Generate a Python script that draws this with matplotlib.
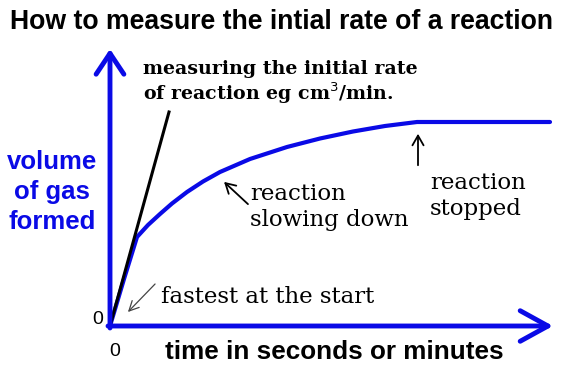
import matplotlib
matplotlib.use("Agg")
import matplotlib.pyplot as plt

# Data (time units, volume units; origin at 0,0)
time = [0, 14, 27, 38, 50, 62, 77, 93, 110, 140, 177, 210, 243, 275, 307, 440]
volume = [0, 47, 89, 101, 112, 122.5, 134, 144.5, 154, 167, 179, 187.5, 194.5, 200, 204, 204]
tangent_t = [0, 59]
tangent_v = [0, 214]

title = "How to measure the intial rate of a reaction"
ylabel = "volume\nof gas\nformed"
xlabel = "time in seconds or minutes"

fig = plt.figure(figsize=(5.7, 3.74), dpi=100)
ax = fig.add_axes([0, 0, 1, 1])
ax.set_xlim(-110, 460)
ax.set_ylim(-48, 326)
ax.axis("off")

blue = "#0a0ae6"

# axes with arrows
ax.annotate("", xy=(443, 0), xytext=(-2, 0),
            arrowprops=dict(arrowstyle="->,head_length=1.0,head_width=0.55", color=blue, lw=3.5,
                            shrinkA=0, shrinkB=0, mutation_scale=20))
ax.annotate("", xy=(0, 277), xytext=(0, -2),
            arrowprops=dict(arrowstyle="->,head_length=0.75,head_width=0.5", color=blue, lw=3.5,
                            shrinkA=0, shrinkB=0, mutation_scale=20))

# curve
ax.plot(time, volume, color=blue, lw=3, solid_capstyle="round", solid_joinstyle="round")
# tangent
ax.plot(tangent_t, tangent_v, color="black", lw=2.2)

# texts
ax.text(172, 304, title, ha="center", va="center", fontsize=19.2, fontweight="bold",
        family="Liberation Sans")
ax.text(-58, 134, ylabel, ha="center", va="center", fontsize=18.5, fontweight="bold",
        color=blue, family="Liberation Sans", linespacing=1.3)
ax.text(-12, 6, "0", ha="center", va="center", fontsize=14, family="Liberation Sans")
ax.text(5, -26, "0", ha="center", va="center", fontsize=14, family="Liberation Sans")
ax.text(224, -26, xlabel, ha="center", va="center", fontsize=18.8, fontweight="bold",
        family="Liberation Sans")

ax.text(33, 243, "measuring the initial rate\nof reaction eg cm$^3$/min.", ha="left", va="center",
        fontsize=13.7, fontweight="bold", family="DejaVu Serif", linespacing=1.12)

ax.text(51, 29, "fastest at the start", ha="left", va="center", fontsize=16.5,
        family="DejaVu Serif")
ax.annotate("", xy=(16, 12), xytext=(47, 44),
            arrowprops=dict(arrowstyle="->,head_length=0.7,head_width=0.35", color="#444444", lw=0.9))

ax.text(140, 119, "reaction\nslowing down", ha="left", va="center", fontsize=16.5,
        family="DejaVu Serif", linespacing=1.2)
ax.annotate("", xy=(112, 146), xytext=(140, 120),
            arrowprops=dict(arrowstyle="->,head_length=0.7,head_width=0.4", color="black", lw=1.3))

ax.text(320, 130, "reaction\nstopped", ha="left", va="center", fontsize=16.5,
        family="DejaVu Serif", linespacing=1.2)
ax.annotate("", xy=(308, 195), xytext=(308, 158),
            arrowprops=dict(arrowstyle="->,head_length=0.7,head_width=0.4", color="black", lw=1.3))

fig.savefig("out.png", dpi=100, facecolor="white")
